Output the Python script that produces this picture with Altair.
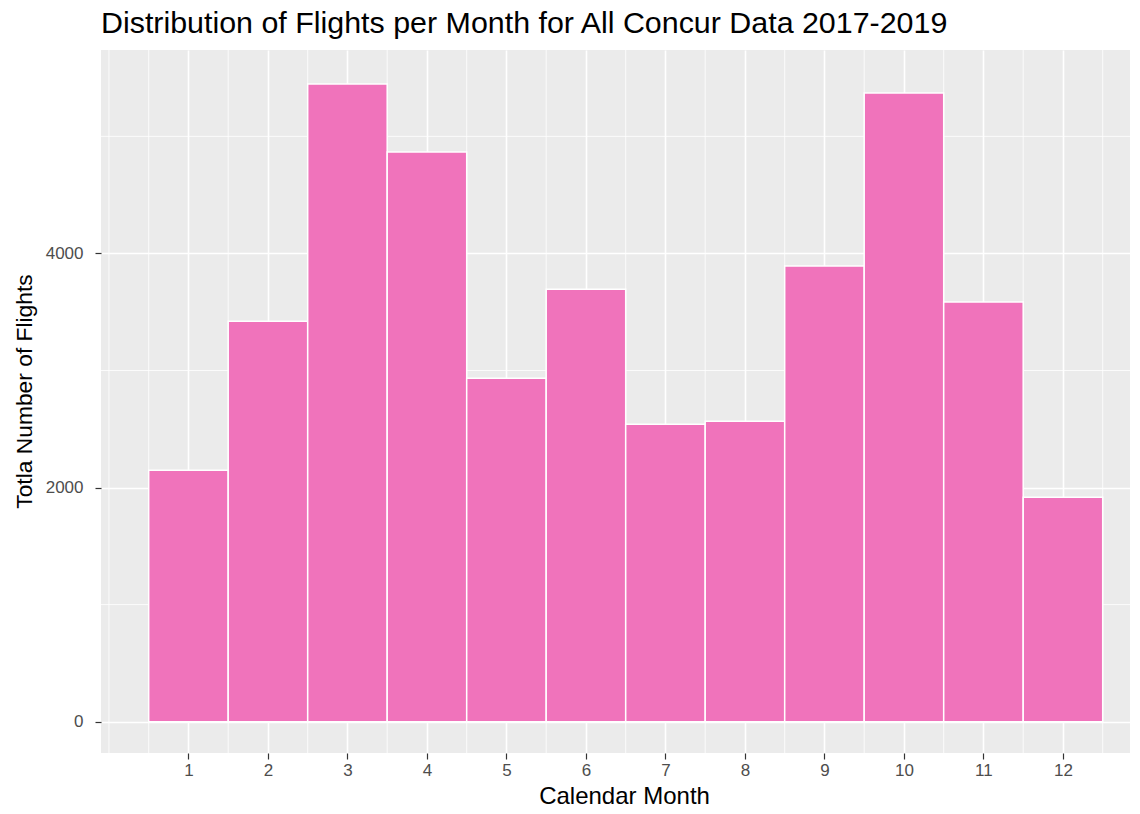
import altair as alt
import pandas as pd

# Data
months = [1, 2, 3, 4, 5, 6, 7, 8, 9, 10, 11, 12]
flights = [2148, 3421, 5447, 4866, 2934, 3695, 2541, 2567, 3892, 5370, 3584, 1917]

x_major = [1, 2, 3, 4, 5, 6, 7, 8, 9, 10, 11, 12]
x_minor = [0, 0.5, 1.5, 2.5, 3.5, 4.5, 5.5, 6.5, 7.5, 8.5, 9.5, 10.5, 11.5, 12.5]
y_major = [0, 2000, 4000]
y_minor = [1000, 3000, 5000]

df = pd.DataFrame({"month": months, "flights": flights})
df["x0"] = df["month"] - 0.5
df["x1"] = df["month"] + 0.5
df["base"] = 0

FONT = "Liberation Sans"
W, H = 1029, 703
xdom = [-0.1, -0.1 + W / 79.5]
ydom = [-268, 5738]

xs = alt.Scale(domain=xdom, nice=False, zero=False)
ys = alt.Scale(domain=ydom, nice=False, zero=False)

minor_x = alt.Chart(pd.DataFrame({"v": x_minor})).mark_rule(
    color="white", strokeWidth=0.8
).encode(x=alt.X("v:Q", scale=xs))

minor_y = alt.Chart(pd.DataFrame({"v": y_minor})).mark_rule(
    color="white", strokeWidth=0.8
).encode(y=alt.Y("v:Q", scale=ys))

bars = alt.Chart(df).mark_rect(
    fill="#F073BB", stroke="white", strokeWidth=1.5
).encode(
    x=alt.X(
        "x0:Q",
        scale=xs,
        axis=alt.Axis(
            values=x_major,
            format="d",
            title="Calendar Month",
            grid=True,
            gridColor="white",
            gridWidth=1.6,
            titleX=523,
            titleY=50,
            titleFontSize=24,
            titleBaseline="alphabetic",
            titleAlign="center",
            labelPadding=3,
        ),
    ),
    x2="x1:Q",
    y=alt.Y(
        "flights:Q",
        scale=ys,
        axis=alt.Axis(
            values=y_major,
            format="d",
            title="Totla Number of Flights",
            grid=True,
            gridColor="white",
            gridWidth=1.6,
            titleX=-69.5,
            titleY=341,
            titleFontSize=22.8,
            titleAngle=-90,
            titleBaseline="alphabetic",
            titleAlign="center",
            labelPadding=12,
        ),
    ),
    y2="base:Q",
)

chart = alt.layer(minor_x, minor_y, bars).properties(
    width=W,
    height=H,
    autosize=alt.AutoSizeParams(type="none"),
    padding={"left": 93, "top": 42, "right": 0, "bottom": 53},
    title=alt.Title(
        "Distribution of Flights per Month for All Concur Data 2017-2019",
        anchor="start",
        frame="group",
        fontSize=30.4,
        font=FONT,
        fontWeight="normal",
        color="black",
        baseline="alphabetic",
        offset=18,
        dy=32,
    ),
).configure_view(
    fill="#EBEBEB", stroke=None
).configure_axis(
    domain=False,
    labelFont=FONT,
    labelFontSize=17,
    labelColor="#4D4D4D",
    tickColor="#333333",
    tickWidth=1.2,
    tickSize=6,
    titleFont=FONT,
    titleFontWeight="normal",
    titleColor="black",
)

chart.save("out.html", embed_options={"renderer": "svg", "actions": False})
